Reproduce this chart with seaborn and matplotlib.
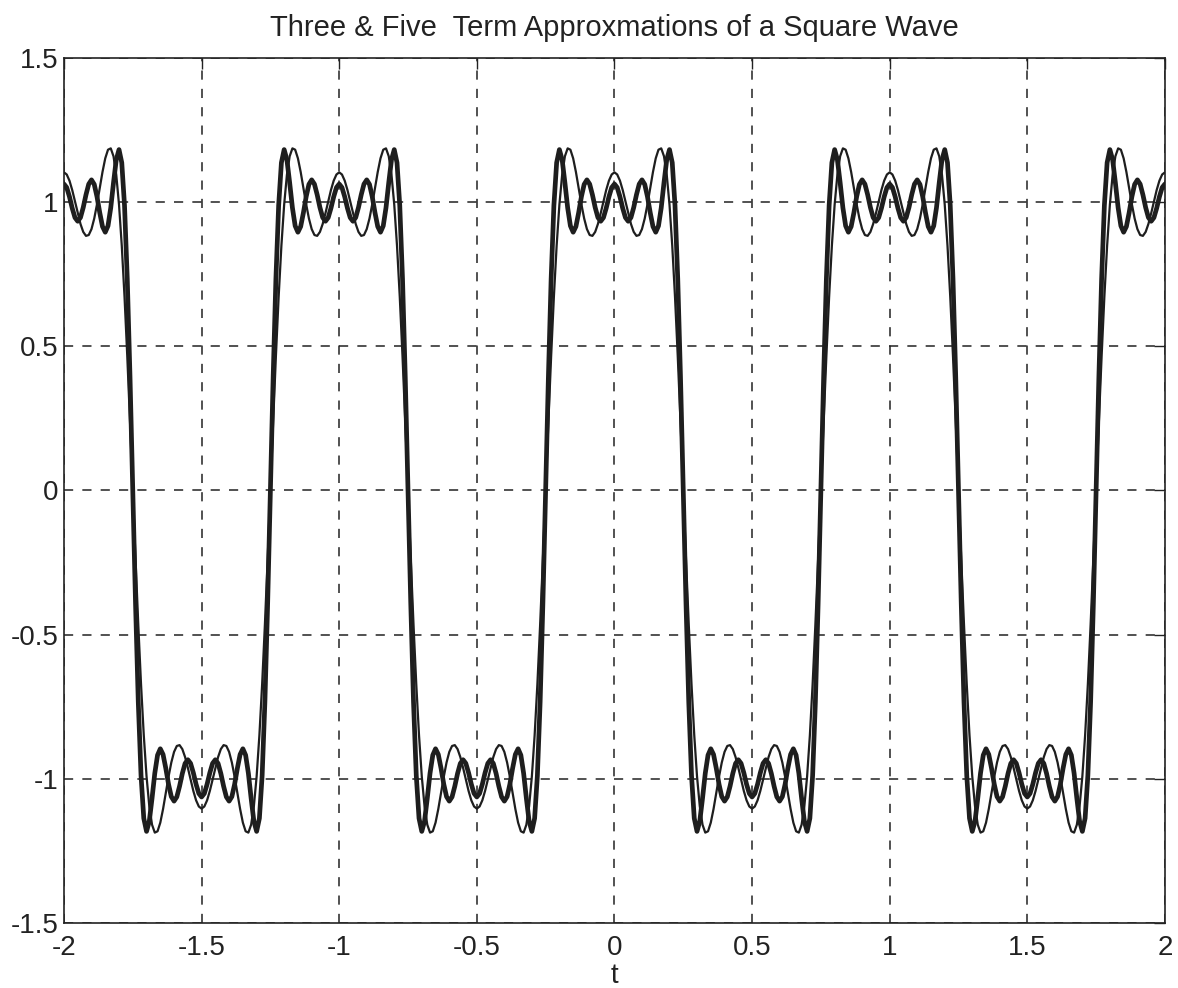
#!/usr/bin/env python3

"""Three and five term Fourier approximations of a square wave."""

import matplotlib.pyplot as plt
import numpy as np
import pandas as pd
import seaborn as sns

# harmonics used by each approximation and their cosine amplitudes (4/(n*pi), alternating sign)
HARMONICS_3 = [1, 3, 5]
AMPS_3 = [1.2732, -0.4244, 0.2546]
HARMONICS_5 = [1, 3, 5, 7, 9]
AMPS_5 = [1.2732, -0.4244, 0.2546, -0.1819, 0.1415]
PERIOD = 1.0

X_TICKS = [-2, -1.5, -1, -0.5, 0, 0.5, 1, 1.5, 2]
Y_TICKS = [-1.5, -1, -0.5, 0, 0.5, 1, 1.5]


def partial_sum(t, harmonics, amps):
    return sum(a * np.cos(2 * np.pi * n * t / PERIOD) for n, a in zip(harmonics, amps))


def fmt(v):
    return f"{v:g}"


sns.set_style("white")
plt.rcParams["font.family"] = ["Liberation Sans", "DejaVu Sans"]

t = np.linspace(-2, 2, 401)
df = pd.concat(
    [
        pd.DataFrame({"t": t, "y": partial_sum(t, HARMONICS_3, AMPS_3), "terms": "three"}),
        pd.DataFrame({"t": t, "y": partial_sum(t, HARMONICS_5, AMPS_5), "terms": "five"}),
    ]
)

fig = plt.figure(figsize=(11.78, 9.88), dpi=100)
ax = fig.add_axes([0.0543, 0.0658, 0.9346, 0.8755])

sns.lineplot(
    df,
    x="t",
    y="y",
    hue="terms",
    size="terms",
    sizes={"three": 1.6, "five": 3.4},
    palette={"three": "#1e1e1e", "five": "#1e1e1e"},
    legend=False,
    ax=ax,
    zorder=5,
)

ax.set_xlim(-2, 2)
ax.set_ylim(-1.5, 1.5)
ax.set_xticks(X_TICKS)
ax.set_xticklabels([fmt(v) for v in X_TICKS])
ax.set_yticks(Y_TICKS)
ax.set_yticklabels([fmt(v) for v in Y_TICKS])
ax.tick_params(
    direction="in", length=8, width=1, labelsize=20, colors="#222222",
    pad=4, top=True, right=True,
)
ax.tick_params(axis="x", pad=9)
ax.grid(True, color="#222222", linestyle=(0, (6, 6)), linewidth=1.1)
for s in ax.spines.values():
    s.set_color("#222222")
    s.set_linewidth(1.2)

ax.set_xlabel("t", fontsize=20, labelpad=1, color="#222222")
ax.set_ylabel("")
ax.set_title(
    "Three & Five  Term Approxmations of a Square Wave",
    fontsize=21,
    pad=16,
    color="#222222",
)

fig.savefig("out.png", dpi=100)
